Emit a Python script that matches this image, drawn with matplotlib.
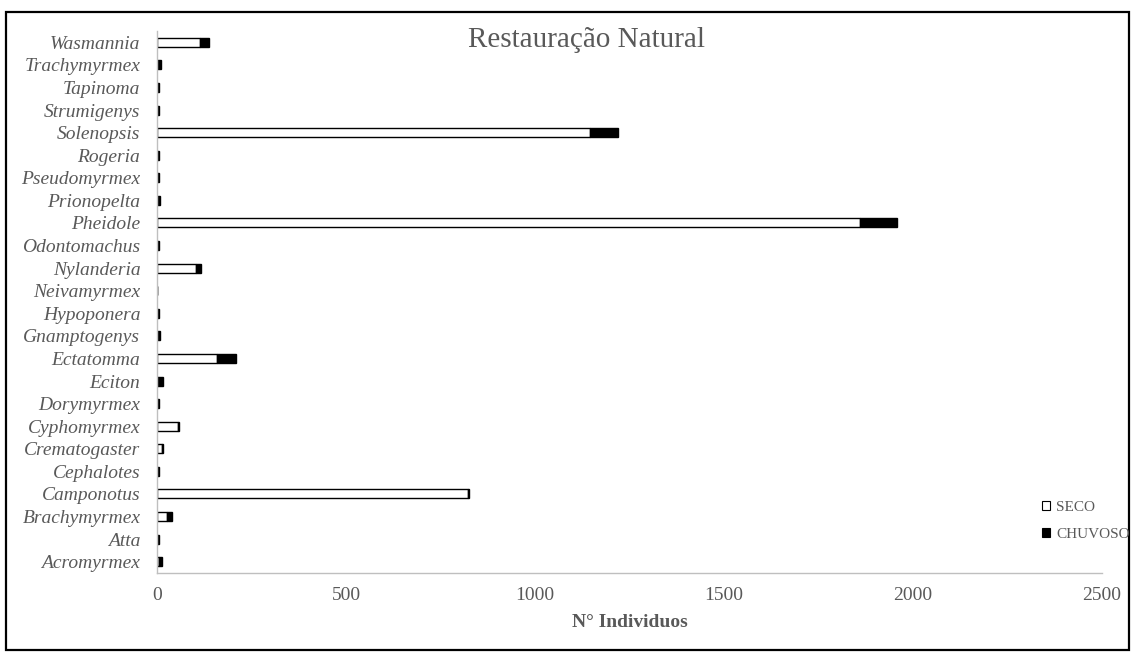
import matplotlib
matplotlib.use("Agg")
import matplotlib.pyplot as plt
from matplotlib.patches import Rectangle, Patch

# genera, bottom to top
generos = ["Acromyrmex", "Atta", "Brachymyrmex", "Camponotus", "Cephalotes",
           "Crematogaster", "Cyphomyrmex", "Dorymyrmex", "Eciton", "Ectatomma",
           "Gnamptogenys", "Hypoponera", "Neivamyrmex", "Nylanderia", "Odontomachus",
           "Pheidole", "Prionopelta", "Pseudomyrmex", "Rogeria", "Solenopsis",
           "Strumigenys", "Tapinoma", "Trachymyrmex", "Wasmannia"]
seco = [5, 2, 27, 823, 2, 12, 55, 2, 3, 160,
        1, 2, 0, 103, 2, 1860, 1, 2, 2, 1145,
        2, 2, 1, 115]
chuvoso = [8, 2, 14, 2, 2, 3, 3, 2, 12, 48,
           6, 2, 0, 13, 2, 98, 7, 2, 2, 75,
           2, 2, 10, 22]
xticks = [0, 500, 1000, 1500, 2000, 2500]

cinza = "#595959"
plt.rcParams["font.family"] = ["Liberation Serif", "DejaVu Serif"]

fig = plt.figure(figsize=(11.32, 6.52), dpi=100)
ax = fig.add_axes([157 / 1132, 1 - 573 / 652, (1102 - 157) / 1132, (573 - 31) / 652])

pos = range(len(generos))
ax.barh(pos, seco, height=0.4, color="white", edgecolor="black", linewidth=1.0)
ax.barh(pos, chuvoso, left=seco, height=0.4, color="black", edgecolor="black", linewidth=1.0)

ax.set_xlim(0, 2500)
ax.set_ylim(-0.5, len(generos) - 0.5)
ax.set_yticks(list(pos))
ax.set_yticklabels(generos, fontstyle="italic", fontsize=14, color=cinza)
ax.set_xticks(xticks)
ax.set_xticklabels([str(t) for t in xticks], fontsize=14, color=cinza)
ax.tick_params(axis="both", length=0)
ax.tick_params(axis="x", pad=10)
ax.tick_params(axis="y", pad=12)
for s in ["top", "right"]:
    ax.spines[s].set_visible(False)
for s in ["left", "bottom"]:
    ax.spines[s].set_color("#bfbfbf")
    ax.spines[s].set_linewidth(1.0)

ax.set_xlabel("N° Individuos", fontsize=14, fontweight="bold", color=cinza, labelpad=7)
fig.text(587 / 1132, 1 - 40 / 652, "Restauração Natural", fontsize=21,
         color=cinza, ha="center", va="center")

handles = [Patch(facecolor="white", edgecolor="black", linewidth=0.8, label="SECO"),
           Patch(facecolor="black", edgecolor="black", linewidth=0.8, label="CHUVOSO")]
fig.legend(handles=handles, loc="center left", bbox_to_anchor=(1034 / 1132, 1 - 521 / 652),
           frameon=False, fontsize=11, labelcolor=cinza, handlelength=0.55,
           handleheight=0.55, handletextpad=0.4, labelspacing=0.9, borderpad=0)

fig.patches.append(Rectangle((6 / 1132, 2 / 652), 1123 / 1132, 638 / 652,
                             transform=fig.transFigure, fill=False,
                             edgecolor="black", linewidth=1.6))

fig.savefig("out.png", dpi=100)
